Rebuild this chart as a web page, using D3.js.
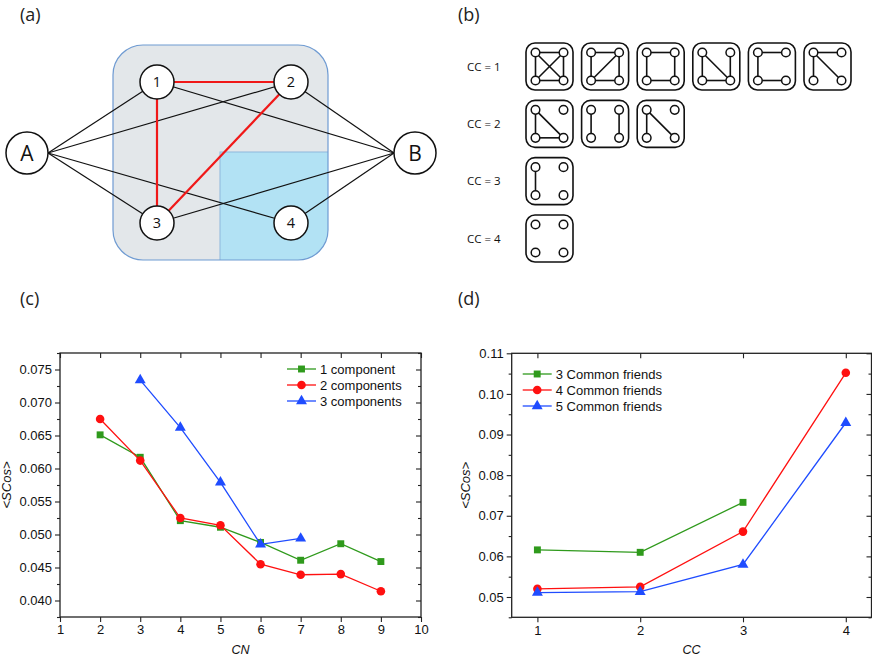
<html>
<script src="https://d3js.org/d3.v7.min.js"></script>
<style>
body { margin: 0; background: #fff; }
text { font-family: "Liberation Sans", Arial, sans-serif; }
.lab { font-family: "Open Sans", "Noto Sans", sans-serif; }
</style>
<body>
<svg width=872 height=659></svg>
<script>
// ---------- data ----------
// panel (a): nodes on a small grid (col,row) and the edges
var netNodes = [
  {id: "A", c: 0, r: 1, big: true},
  {id: "1", c: 1, r: 0}, {id: "2", c: 2, r: 0},
  {id: "3", c: 1, r: 2}, {id: "4", c: 2, r: 2},
  {id: "B", c: 3, r: 1, big: true}
];
var blackEdges = [["A","1"],["A","2"],["A","3"],["A","4"],["B","1"],["B","2"],["B","3"],["B","4"]];
var redEdges = [["1","2"],["1","3"],["2","3"]];

// panel (b): motifs, corners 0=TL 1=TR 2=BL 3=BR
var ccRows = ["CC = 1", "CC = 2", "CC = 3", "CC = 4"];
var motifs = [
  [[0,1],[2,3],[0,2],[1,3],[0,3],[1,2]],
  [[0,1],[2,3],[0,2],[1,3],[1,2]],
  [[0,1],[2,3],[0,2],[1,3]],
  [[0,2],[0,3],[1,3],[2,3]],
  [[0,1],[0,2],[2,3]],
  [[0,1],[0,2],[0,3]],
  [[0,2],[0,3],[2,3]],
  [[0,2],[1,3]],
  [[0,2],[0,3]],
  [[0,2]],
  []
];
var motifRow = [0,0,0,0,0,0,1,1,1,2,3];
var motifCol = [0,1,2,3,4,5,0,1,2,0,0];

// panel (c)
var cnValues = [2,3,4,5,6,7,8,9];
var comp1 = [0.0651,0.0617,0.0521,0.0511,0.0488,0.0461,0.0486,0.0459];
var comp2 = [0.0675,0.0612,0.0525,0.0514,0.0455,0.0439,0.0440,0.0414];
var comp3x = [3,4,5,6,7];
var comp3 = [0.0734,0.0662,0.0579,0.0485,0.0494];
var cTicksX = [1,2,3,4,5,6,7,8,9,10];
var cTicksY = [0.040,0.045,0.050,0.055,0.060,0.065,0.070,0.075];

// panel (d)
var ccX3 = [1,2,3];
var friends3 = [0.0616,0.0610,0.0733];
var ccX = [1,2,3,4];
var friends4 = [0.0520,0.0525,0.0661,0.1052];
var friends5 = [0.0511,0.0513,0.0580,0.0929];
var dTicksX = [1,2,3,4];
var dTicksY = [0.05,0.06,0.07,0.08,0.09,0.10,0.11];

var green = "#2f9a1c", red = "#ff1010", blue = "#1f4cff";

var svg = d3.select("svg");

// panel letters
[["(a)",20,21],["(b)",458,21],["(c)",20,305],["(d)",458,305]].forEach(function(p){
  svg.append("text").attr("class","lab").attr("x",p[1]).attr("y",p[2])
    .attr("font-size",18).attr("fill","#222").text(p[0]);
});

// ---------- (a) ----------
var ax = d3.scaleLinear().domain([0,1,2,3]).range([27,157,291,415]);
var ay = d3.scaleLinear().domain([0,1,2]).range([82,153,223]);
var ga = svg.append("g");
ga.append("clipPath").attr("id","clipA").append("rect")
  .attr("x",113).attr("y",45).attr("width",215).attr("height",215).attr("rx",30);
ga.append("rect").attr("x",113).attr("y",45).attr("width",215).attr("height",215).attr("rx",30)
  .attr("fill","#e3e7ea");
ga.append("rect").attr("x",ax(1.5)-4).attr("y",ay(1)-1).attr("width",120).attr("height",120)
  .attr("fill","#b2e2f4").attr("stroke","#8db8dc").attr("stroke-width",1)
  .attr("clip-path","url(#clipA)");
ga.append("rect").attr("x",113).attr("y",45).attr("width",215).attr("height",215).attr("rx",30)
  .attr("fill","none").attr("stroke","#6f9bd2").attr("stroke-width",1.2);

var byId = {};
netNodes.forEach(function(n){ byId[n.id] = n; });
function anchor(n){
  // A and B edges meet at the side point of the big node
  if (n.id === "A") return [ax(n.c)+21, ay(n.r)];
  if (n.id === "B") return [ax(n.c)-21, ay(n.r)];
  return [ax(n.c), ay(n.r)];
}
ga.selectAll("line.blk").data(blackEdges).enter().append("line")
  .attr("x1",function(d){return anchor(byId[d[0]])[0];})
  .attr("y1",function(d){return anchor(byId[d[0]])[1];})
  .attr("x2",function(d){return anchor(byId[d[1]])[0];})
  .attr("y2",function(d){return anchor(byId[d[1]])[1];})
  .attr("stroke","#111").attr("stroke-width",1.2);
ga.selectAll("line.red").data(redEdges).enter().append("line")
  .attr("x1",function(d){return ax(byId[d[0]].c);})
  .attr("y1",function(d){return ay(byId[d[0]].r);})
  .attr("x2",function(d){return ax(byId[d[1]].c);})
  .attr("y2",function(d){return ay(byId[d[1]].r);})
  .attr("stroke","#f01818").attr("stroke-width",2.2);
var nd = ga.selectAll("g.node").data(netNodes).enter().append("g")
  .attr("transform",function(d){return "translate("+ax(d.c)+","+ay(d.r)+")";});
nd.append("circle").attr("r",function(d){return d.big?21:17;})
  .attr("fill","#fff").attr("stroke","#111").attr("stroke-width",1.5);
nd.append("text").attr("class","lab").attr("text-anchor","middle")
  .attr("dy","0.36em")
  .attr("font-size",function(d){return d.big?21:14.5;})
  .attr("fill","#111").text(function(d){return d.id;});

// ---------- (b) ----------
var bx = d3.scaleLinear().domain([0,5]).range([526,804]);
var by = d3.scaleLinear().domain([0,3]).range([43,215]);
var box = 47, inset = 9.5;
var corner = [[inset,inset],[box-inset,inset],[inset,box-inset],[box-inset,box-inset]];
svg.selectAll("text.cc").data(ccRows).enter().append("text").attr("class","lab")
  .attr("x",467).attr("y",function(d,i){return by(i)+box/2+4;})
  .attr("font-size",11.5).attr("fill","#111").text(function(d){return d;});
var mg = svg.selectAll("g.motif").data(motifs).enter().append("g")
  .attr("transform",function(d,i){return "translate("+bx(motifCol[i])+","+by(motifRow[i])+")";});
mg.append("rect").attr("width",box).attr("height",box).attr("rx",9)
  .attr("fill","#fff").attr("stroke","#111").attr("stroke-width",1.6);
mg.each(function(d){
  var g = d3.select(this);
  g.selectAll("line").data(d).enter().append("line")
    .attr("x1",function(e){return corner[e[0]][0];}).attr("y1",function(e){return corner[e[0]][1];})
    .attr("x2",function(e){return corner[e[1]][0];}).attr("y2",function(e){return corner[e[1]][1];})
    .attr("stroke","#111").attr("stroke-width",1.6);
  g.selectAll("circle").data(corner).enter().append("circle")
    .attr("cx",function(c){return c[0];}).attr("cy",function(c){return c[1];}).attr("r",4.3)
    .attr("fill","#fff").attr("stroke","#111").attr("stroke-width",1.5);
});

// ---------- chart helper ----------
function frame(x, y, xt, yt, ymin, fmt, xlab, ylabX){
  var g = svg.append("g");
  var x0 = x.range()[0], x1 = x.range()[1], y0 = y.range()[0], y1 = y.range()[1];
  var minor = [];
  for (var i = 0; i < yt.length; i++) minor.push(yt[i] - ymin);
  minor.push(yt[yt.length-1] + ymin);
  minor = minor.filter(function(v){ return v >= y.domain()[0] && v <= y.domain()[1]; });
  // left
  g.append("g").attr("transform","translate("+x0+",0)")
    .call(d3.axisLeft(y).tickValues(yt).tickFormat(d3.format(fmt)).tickSize(5).tickSizeOuter(0));
  g.append("g").attr("transform","translate("+x0+",0)")
    .call(d3.axisLeft(y).tickValues(minor).tickFormat("").tickSize(3).tickSizeOuter(0));
  // right (inward)
  g.append("g").attr("transform","translate("+x1+",0)")
    .call(d3.axisLeft(y).tickValues(yt).tickFormat("").tickSize(5).tickSizeOuter(0));
  g.append("g").attr("transform","translate("+x1+",0)")
    .call(d3.axisLeft(y).tickValues(minor).tickFormat("").tickSize(3).tickSizeOuter(0));
  // bottom
  g.append("g").attr("transform","translate(0,"+y0+")")
    .call(d3.axisBottom(x).tickValues(xt).tickFormat(d3.format("d")).tickSize(5).tickSizeOuter(0));
  // top (inward)
  g.append("g").attr("transform","translate(0,"+y1+")")
    .call(d3.axisBottom(x).tickValues(xt).tickFormat("").tickSize(5).tickSizeOuter(0));
  g.selectAll(".domain").remove();
  g.selectAll(".tick line").attr("stroke","#222").attr("stroke-width",1.1);
  g.selectAll(".tick text").attr("font-family","Liberation Sans, Arial, sans-serif")
    .attr("font-size",13).attr("fill","#111");
  g.append("rect").attr("x",x0).attr("y",y1).attr("width",x1-x0).attr("height",y0-y1)
    .attr("fill","none").attr("stroke","#222").attr("stroke-width",1.3);
  g.append("text").attr("x",(x0+x1)/2).attr("y",654).attr("text-anchor","middle")
    .attr("font-size",12.5).attr("font-style","italic").attr("fill","#111").text(xlab);
  g.append("text").attr("transform","translate("+ylabX+","+((y0+y1)/2)+") rotate(-90)")
    .attr("text-anchor","middle").attr("font-size",13).attr("font-style","italic")
    .attr("fill","#111").text("<SCos>");
}

var sym = {
  sq: d3.symbol().type(d3.symbolSquare).size(48),
  ci: d3.symbol().type(d3.symbolCircle).size(58),
  tr: d3.symbol().type(d3.symbolTriangle).size(52)
};
function series(x, y, xs, ys, col, shape){
  var pts = xs.map(function(v,i){ return [v, ys[i]]; });
  svg.append("path").datum(pts)
    .attr("d", d3.line().x(function(d){return x(d[0]);}).y(function(d){return y(d[1]);}))
    .attr("fill","none").attr("stroke",col).attr("stroke-width",1.3);
  svg.selectAll(null).data(pts).enter().append("path")
    .attr("d", sym[shape])
    .attr("transform",function(d){return "translate("+x(d[0])+","+y(d[1])+")";})
    .attr("fill",col);
}
function legend(lx, ly, items){
  items.forEach(function(it, i){
    var yy = ly + i*16;
    svg.append("line").attr("x1",lx).attr("x2",lx+29).attr("y1",yy).attr("y2",yy)
      .attr("stroke",it[1]).attr("stroke-width",1.3);
    svg.append("path").attr("d",sym[it[2]]).attr("transform","translate("+(lx+14.5)+","+yy+")")
      .attr("fill",it[1]);
    svg.append("text").attr("x",lx+33).attr("y",yy+4.5).attr("font-size",13)
      .attr("fill","#111").text(it[0]);
  });
}

// ---------- (c) ----------
var xC = d3.scaleLinear().domain([1,10]).range([60,421]);
var yC = d3.scaleLinear().domain([0.0375,0.0775]).range([617,353]);
frame(xC, yC, cTicksX, cTicksY, 0.0025, ".3f", "CN", 11);
series(xC, yC, cnValues, comp1, green, "sq");
series(xC, yC, cnValues, comp2, red, "ci");
series(xC, yC, comp3x, comp3, blue, "tr");
legend(287, 369, [["1 component",green,"sq"],["2 components",red,"ci"],["3 components",blue,"tr"]]);

// ---------- (d) ----------
var xD = d3.scaleLinear().domain([0.75,4.25]).range([511.7,871.5]);
var yD = d3.scaleLinear().domain([0.045,0.11]).range([617.3,353.3]);
frame(xD, yD, dTicksX, dTicksY, 0.005, ".2f", "CC", 470);
series(xD, yD, ccX3, friends3, green, "sq");
series(xD, yD, ccX, friends4, red, "ci");
series(xD, yD, ccX, friends5, blue, "tr");
legend(522.7, 374, [["3 Common friends",green,"sq"],["4 Common friends",red,"ci"],["5 Common friends",blue,"tr"]]);
</script>
</body>
</html>
